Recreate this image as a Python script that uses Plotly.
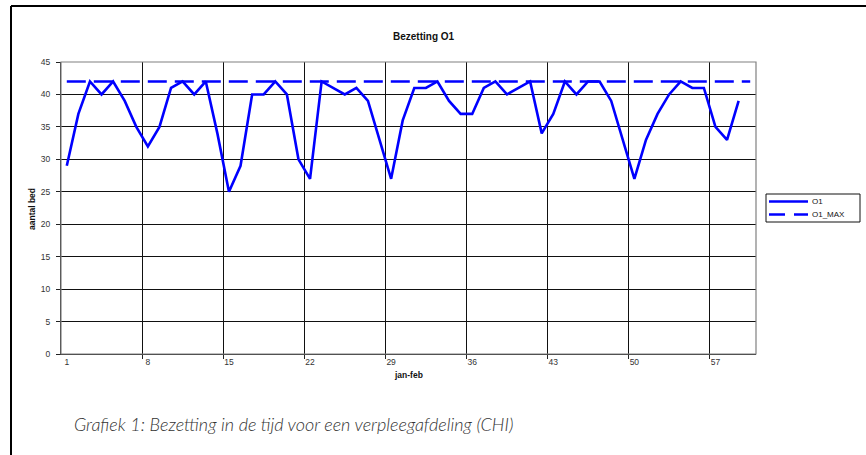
import plotly.graph_objects as go

# Daily bed occupancy for ward O1 (jan-feb), plus the ward's capacity
days = list(range(1, 61))
o1 = [29, 37, 42, 40, 42, 39, 35, 32, 35, 41,
      42, 40, 42, 34, 25, 29, 40, 40, 42, 40,
      30, 27, 42, 41, 40, 41, 39, 33, 27, 36,
      41, 41, 42, 39, 37, 37, 41, 42, 40, 41,
      42, 34, 37, 42, 40, 42, 42, 39, 33, 27,
      33, 37, 40, 42, 41, 41, 35, 33, 39, None]
o1_max = [42] * 60
x_tick_vals = [1, 8, 15, 22, 29, 36, 43, 50, 57]
x_tick_text = ["1", "8", "15", "22", "29", "36", "43", "50", "57"]
y_tick_vals = [0, 5, 10, 15, 20, 25, 30, 35, 40, 45]

W, H = 866, 455
ML, MR, MT, MB = 61, 110, 62, 101
PW, PH = W - ML - MR, H - MT - MB


def px(x):
    return (x - ML) / PW


def py(y):
    return (H - MB - y) / PH


BLUE = "#0000FF"
FONT = "Liberation Sans, Arial, sans-serif"

fig = go.Figure()
fig.add_trace(go.Scatter(x=days, y=o1, name="O1", mode="lines",
                         line=dict(color=BLUE, width=2.6), connectgaps=False,
                         showlegend=False))
fig.add_trace(go.Scatter(x=days, y=o1_max, name="O1_MAX", mode="lines",
                         line=dict(color=BLUE, width=2.6, dash="19px,8px"),
                         showlegend=False))

fig.update_layout(
    width=W, height=H,
    margin=dict(l=ML, r=MR, t=MT, b=MB),
    paper_bgcolor="white", plot_bgcolor="white",
    font=dict(family=FONT, color="#222", size=8),
)

fig.update_xaxes(
    range=[0.5, 60.5], tickmode="array", tickvals=x_tick_vals, ticktext=x_tick_text,
    ticks="", showgrid=False, zeroline=False,
    showline=True, linecolor="#222", linewidth=1,
    tickfont=dict(size=8.5, family=FONT, color="#333"),
    minor=dict(tickmode="array", tickvals=[7.5, 14.5, 21.5, 28.5, 35.5, 42.5, 49.5, 56.5],
               showgrid=True, gridcolor="#111", gridwidth=1,
               ticks="outside", ticklen=4, tickcolor="#222", tickwidth=1),
)
fig.update_yaxes(
    range=[0, 45], tickmode="array", tickvals=y_tick_vals,
    showgrid=True, gridcolor="#111", gridwidth=1.2, zeroline=False,
    showline=True, linecolor="#222", linewidth=1,
    ticks="outside", ticklen=4, tickcolor="#222",
    tickfont=dict(size=8.5, family=FONT, color="#333"),
    ticklabelstandoff=4,
)

shapes = [
    # plot-area outline (top and right edges in grey)
    dict(type="rect", xref="paper", yref="paper", x0=0, x1=1, y0=0, y1=1,
         line=dict(color="#808080", width=1.2), layer="above"),
    # outer frame of the figure
    dict(type="line", xref="paper", yref="paper", x0=px(11), x1=px(11), y0=py(6), y1=py(460),
         line=dict(color="black", width=2)),
    dict(type="line", xref="paper", yref="paper", x0=px(11), x1=px(870), y0=py(6), y1=py(6),
         line=dict(color="black", width=2)),
    # legend box
    dict(type="rect", xref="paper", yref="paper", x0=px(766), x1=px(860), y0=py(194), y1=py(222),
         line=dict(color="#111", width=1), fillcolor="white"),
    dict(type="line", xref="paper", yref="paper", x0=px(769), x1=px(808), y0=py(201.5), y1=py(201.5),
         line=dict(color=BLUE, width=2.6)),
    dict(type="line", xref="paper", yref="paper", x0=px(769), x1=px(808), y0=py(214.5), y1=py(214.5),
         line=dict(color=BLUE, width=2.6, dash="16px,9px")),
]

annotations = [
    dict(text="<b>Bezetting O1</b>", x=px(424), y=py(29), xref="paper", yref="paper",
         showarrow=False, font=dict(size=10, family=FONT, color="#111")),
    dict(text="<b>jan-feb</b>", x=px(408), y=py(382), xref="paper", yref="paper",
         showarrow=False, font=dict(size=8.5, family=FONT, color="#111")),
    dict(text="<b>aantal bed</b>", x=px(25), y=py(209), xref="paper", yref="paper",
         showarrow=False, textangle=-90, font=dict(size=8.5, family=FONT, color="#111")),
    dict(text="O1", x=px(810), y=py(201.5), xref="paper", yref="paper", xanchor="left",
         showarrow=False, font=dict(size=8, family=FONT, color="#111")),
    dict(text="O1_MAX", x=px(810), y=py(214.5), xref="paper", yref="paper", xanchor="left",
         showarrow=False, font=dict(size=8, family=FONT, color="#111")),
    dict(text="Grafiek 1: Bezetting in de tijd voor een verpleegafdeling (CHI)",
         x=px(72), y=py(437), xref="paper", yref="paper", xanchor="left",
         showarrow=False,
         font=dict(size=18, family="Lato, sans-serif", color="#333333", style="italic", weight=300)),
]

fig.update_layout(shapes=shapes, annotations=annotations)
fig.write_html("out.html")
